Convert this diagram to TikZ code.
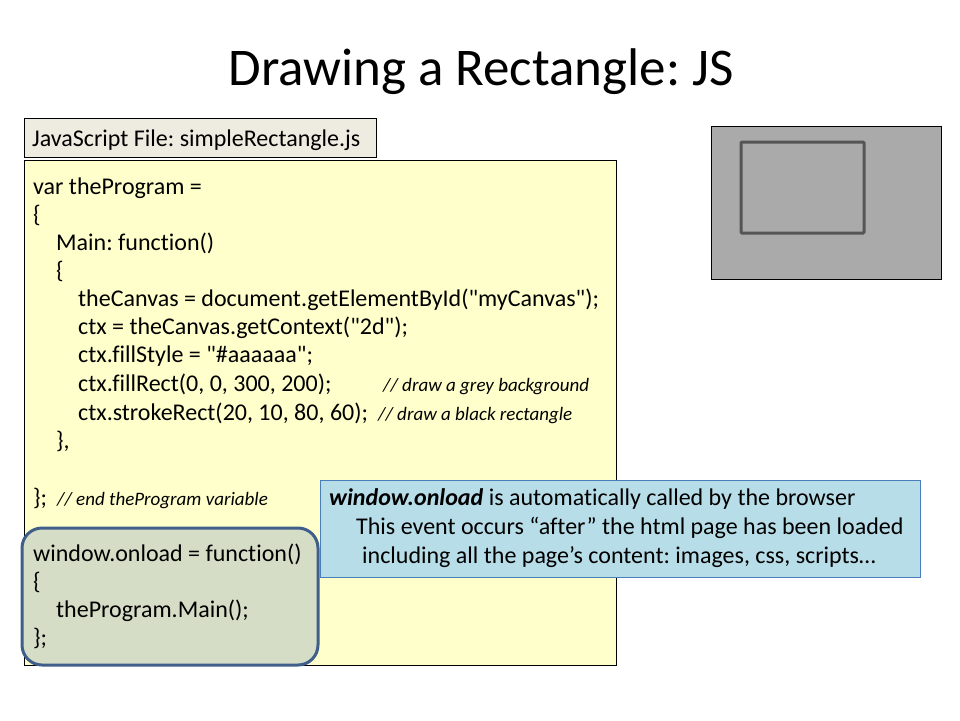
\documentclass[tikz,border=0pt]{standalone}
\usepackage{fontspec}
\setmainfont{Carlito}[Ligatures={TeXOff,CommonOff}]
\usepackage{tikz}
\usepackage{xcolor}
\frenchspacing
\definecolor{codeBg}{HTML}{FFFFCC}
\definecolor{labelBg}{HTML}{EEECE1}
\definecolor{onloadBg}{HTML}{D6DDC6}
\definecolor{onloadLine}{HTML}{3F5F8A}
\definecolor{noteBg}{HTML}{B7DDE8}
\definecolor{noteLine}{HTML}{4A7EBB}
\definecolor{canvasBg}{HTML}{AAAAAA}
\definecolor{rectLine}{HTML}{555555}
\def\codeSize{\fontsize{24}{28}\selectfont}
\def\remSize{\fontsize{19}{22}\selectfont\itshape}
\tikzset{box/.style={draw=black,line width=1pt}}
\tikzset{code/.style={anchor=base west,inner sep=0,font=\codeSize}}
\tikzset{rem/.style={anchor=base west,inner sep=0,font=\remSize}}
\newcommand{\codeLn}[4]{\node[code] (#1) at (#2,#3) {#4};}

\begin{document}
\begin{tikzpicture}[x=1pt,y=-1pt]\useasboundingbox (0,0) rectangle (960,720);
\node[inner sep=0,anchor=base,font=\fontsize{53}{64}\selectfont] (title) at (481,85) {Drawing a Rectangle: JS};
\draw[box,fill=labelBg] (24,118) rectangle (376,157);\node[code] (fname) at (32,146) {JavaScript File: simpleRectangle.js};
\draw[box,fill=codeBg] (24,160) rectangle (616,665);
\codeLn{l1}{33}{194}{var theProgram =}
\codeLn{l2}{33}{222}{\{}
\codeLn{l3}{56}{250}{Main: function()}
\codeLn{l4}{56}{278}{\{}
\codeLn{l5}{78}{306}{theCanvas = document.getElementById("myCanvas");}
\codeLn{l6}{78}{334}{ctx = theCanvas.getContext("2d");}
\codeLn{l7}{78}{362}{ctx.fillStyle = "\#aaaaaa";}
\codeLn{l8}{78}{391}{ctx.fillRect(0, 0, 300, 200);}
\codeLn{l9}{78}{420}{ctx.strokeRect(20, 10, 80, 60);}
\codeLn{l10}{56}{448}{\},}
\codeLn{l11}{33}{505}{\};}
\node[rem] (r8) at (383,391) {// draw a grey background};
\node[rem] (r9) at (378,420) {// draw a black rectangle};
\node[rem] (r11) at (57,505) {// end theProgram variable};
% onload block
\draw[line width=3pt,draw=onloadLine,fill=onloadBg,rounded corners=20pt] (22,528) rectangle (318,665);
\codeLn{w1}{33}{561}{window.onload = function()}
\codeLn{w2}{33}{589}{\{}
\codeLn{w3}{56}{617}{theProgram.Main();}
\codeLn{w4}{33}{645}{\};}
% note
\draw[line width=1pt,draw=noteLine,fill=noteBg] (320,480) rectangle (920,577);
\codeLn{n1}{329}{505}{\textbf{\textit{window.onload}} is automatically called by the browser}
\codeLn{n2}{356}{534}{This event occurs “after” the html page has been loaded}
\codeLn{n3}{362}{563}{including all the page’s content: images, css, scripts…}
% canvas result
\draw[box,fill=canvasBg] (711,126) rectangle (941,279);
\draw[line width=3pt,draw=rectLine,rounded corners=1pt] (741,142) rectangle (864,233);
\end{tikzpicture}
\end{document}
